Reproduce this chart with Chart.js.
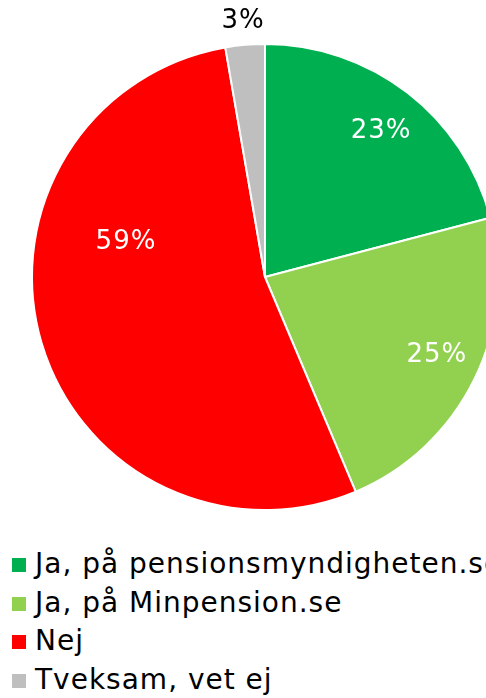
<!DOCTYPE html>
<html>
<head>
<meta charset="utf-8">
<script src="https://cdn.jsdelivr.net/npm/chart.js@4/dist/chart.umd.min.js"></script>
<style>
  html, body { margin: 0; padding: 0; width: 486px; height: 698px; overflow: hidden; background: #fff; position: relative; }
  #wrap { position: absolute; left: 0; top: 0; width: 530px; height: 530px; }
  #legend { position: absolute; left: 0; top: 545px; width: 600px; font-family: "DejaVu Sans", Verdana, sans-serif; font-size: 28px; letter-spacing: 1px; color: #000; }
  .item { position: relative; height: 38.7px; line-height: 38.7px; white-space: nowrap; }
  .sw { position: absolute; left: 12px; top: 13px; width: 14px; height: 14px; }
  .tx { position: absolute; left: 35px; top: 0; }
</style>
</head>
<body>
<div id="wrap"><canvas id="c"></canvas></div>
<div id="legend"></div>
<script>
const categories = ["Ja, på pensionsmyndigheten.se", "Ja, på Minpension.se", "Nej", "Tveksam, vet ej"];
const values = [23, 25, 59, 3];
const valueLabels = ["23%", "25%", "59%", "3%"];
const colors = ["#00B050", "#92D050", "#FF0000", "#BFBFBF"];

// label placement per slice: radius factor and angle shift (degrees)
const labelPlacement = [
  { r: 0.80, shift: 0.9, color: "#FFFFFF" },
  { r: 0.81, shift: -1.8, color: "#FFFFFF" },
  { r: 0.615, shift: 30.4, color: "#FFFFFF" },
  { r: 1.10, shift: 0, color: "#000000" }
];

const labelPlugin = {
  id: 'sliceLabels',
  afterDatasetsDraw(chart) {
    const ctx = chart.ctx;
    const meta = chart.getDatasetMeta(0);
    ctx.save();
    ctx.font = '26px "DejaVu Sans", Verdana, sans-serif';
    if ('letterSpacing' in ctx) ctx.letterSpacing = '1px';
    ctx.textAlign = 'center';
    ctx.textBaseline = 'middle';
    meta.data.forEach((arc, i) => {
      const p = arc.getProps(['x', 'y', 'startAngle', 'endAngle', 'outerRadius'], true);
      const place = labelPlacement[i];
      const mid = (p.startAngle + p.endAngle) / 2 + place.shift * Math.PI / 180;
      const r = p.outerRadius * place.r;
      ctx.fillStyle = place.color;
      ctx.fillText(valueLabels[i], p.x + Math.cos(mid) * r, p.y + Math.sin(mid) * r);
    });
    ctx.restore();
  }
};

new Chart(document.getElementById('c'), {
  type: 'pie',
  data: {
    labels: categories,
    datasets: [{
      data: values,
      backgroundColor: colors,
      borderColor: '#FFFFFF',
      borderWidth: 2
    }]
  },
  options: {
    responsive: true,
    maintainAspectRatio: false,
    animation: false,
    layout: { padding: { left: 31, right: 31, top: 43, bottom: 19 } },
    plugins: {
      legend: { display: false },
      tooltip: { enabled: false }
    }
  },
  plugins: [labelPlugin]
});

const lg = document.getElementById('legend');
categories.forEach((c, i) => {
  const d = document.createElement('div');
  d.className = 'item';
  d.innerHTML = '<span class="sw" style="background:' + colors[i] + '"></span><span class="tx"></span>';
  d.querySelector('.tx').textContent = c;
  lg.appendChild(d);
});
</script>
</body>
</html>
